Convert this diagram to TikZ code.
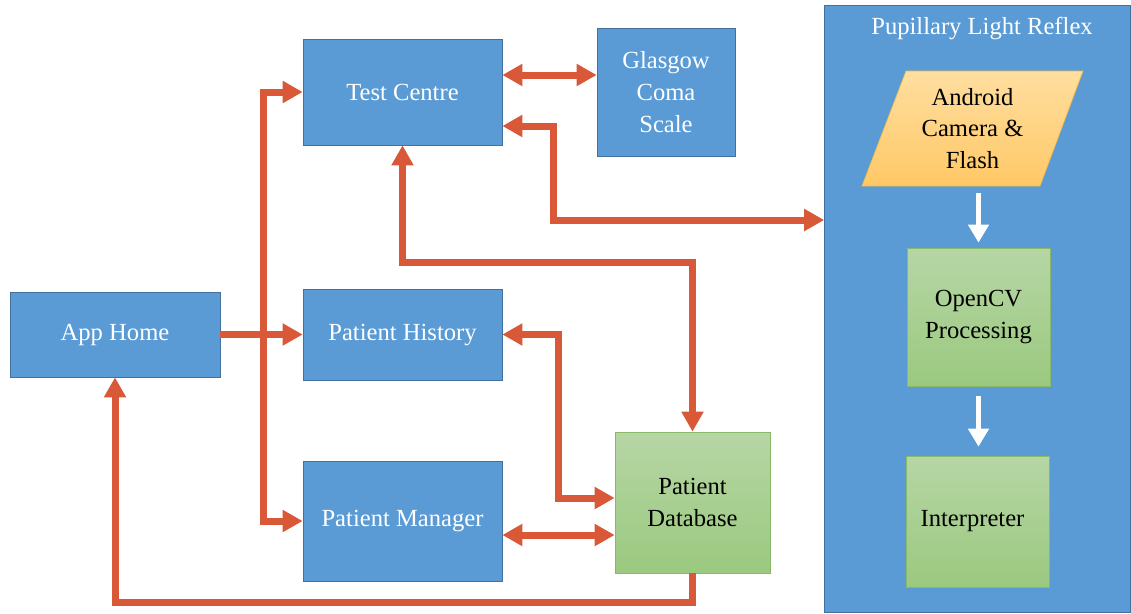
\documentclass[tikz,border=0pt]{standalone}
\usepackage{fontspec}
\setmainfont{Liberation Serif}
\usepackage{xcolor}
\usepackage{tikz}
\usetikzlibrary{arrows.meta,positioning,calc}
\definecolor{boxblue}{RGB}{91,155,213}
\definecolor{edgeblue}{RGB}{65,113,156}
\definecolor{linkred}{RGB}{216,88,56}
\definecolor{greentop}{RGB}{182,214,165}
\definecolor{greenbot}{RGB}{155,201,127}
\definecolor{greenedge}{RGB}{135,185,105}
\definecolor{camtop}{RGB}{255,222,160}
\definecolor{cambot}{RGB}{255,200,102}
\definecolor{camedge}{RGB}{238,188,70}

\begin{document}
\begin{tikzpicture}[
  x=0.02cm, y=-0.02cm,
  font=\fontsize{14}{18}\selectfont,
  bluebox/.style = {rectangle, draw=edgeblue, fill=boxblue, text=white,
                    align=center, inner sep=2pt},
  greenbox/.style = {rectangle, draw=greenedge, top color=greentop,
                     bottom color=greenbot, align=center, inner sep=2pt},
  link/.style = {-{Triangle[length=0.4cm,width=0.42cm]}, line width=0.14cm,
                 color=linkred},
  dlink/.style = {{Triangle[length=0.4cm,width=0.42cm]}-{Triangle[length=0.4cm,width=0.42cm]},
                  line width=0.14cm, color=linkred},
  wlink/.style = {-{Triangle[length=0.36cm,width=0.4cm]}, line width=0.1cm,
                  color=white},
]
\useasboundingbox (0,0) rectangle (1131,613);

% pupillary light reflex panel
\node[bluebox, minimum width=6.12cm, minimum height=12.14cm] (plr) at (977.5,308.5) {};
\node[text=white] (plrtitle) at (982,28) {Pupillary Light Reflex};

\draw[draw=camedge, top color=camtop, bottom color=cambot]
  (906,71) -- (1083,71) -- (1040,186) -- (862,186) -- cycle;
\node[align=center, minimum width=3.5cm, minimum height=2.3cm] (camera) at (972.5,128.5)
  {Android\\Camera \&\\Flash};
\node[greenbox, minimum width=2.86cm, minimum height=2.76cm] (opencv) at (978.5,317) {OpenCV\\Processing};
\node[greenbox, minimum width=2.86cm, minimum height=2.62cm] (interp) at (977.5,521.5) {\hspace{-0.2cm}Interpreter};

% app nodes
\node[bluebox, minimum width=4.2cm, minimum height=1.7cm] (apphome) at (115,334.5) {App Home};
\node[bluebox, minimum width=3.98cm, minimum height=2.12cm] (testcentre) at (402.5,92) {Test Centre};
\node[bluebox, minimum width=2.76cm, minimum height=2.56cm] (glasgow) at (666,92) {Glasgow\\Coma\\Scale};
\node[bluebox, minimum width=3.98cm, minimum height=1.82cm] (history) at (402.5,334.5) {Patient History};
\node[bluebox, minimum width=3.98cm, minimum height=2.4cm] (manager) at (402.5,521) {Patient Manager};
\node[greenbox, minimum width=3.1cm, minimum height=2.82cm] (database) at (692.5,502.5) {Patient\\Database};

% bend points
\coordinate (split) at (263,334.5);
\coordinate (gcsrow) at (0,75);
\coordinate (plrtop) at (553,126);
\coordinate (plrrow) at (553,220);
\coordinate (dbrow) at (0,262);
\coordinate (histbend) at (558,498);
\coordinate (mgrrow) at (0,535);
\coordinate (homerow) at (0,602);

% connectors
\draw[link] (apphome.east) -- (history.west);
\draw[link] (split) |- (testcentre.west);
\draw[link] (split) |- (manager.west);
\draw[dlink] (testcentre.east |- gcsrow) -- (glasgow.west |- gcsrow);
\draw[dlink] (testcentre.east |- plrtop) -- (plrtop) -- (plrrow) -- (plr.west |- plrrow);
\draw[dlink] (testcentre.south) -- (testcentre.south |- dbrow) -- (database.north |- dbrow) -- (database.north);
\draw[dlink] (history.east) -| (histbend) -- (database.west |- histbend);
\draw[dlink] (manager.east |- mgrrow) -- (database.west |- mgrrow);
\draw[link] (database.south) -- (database.south |- homerow) -| (apphome.south);

% white flow arrows
\draw[wlink, shorten <=0.14cm, shorten >=0.1cm] (opencv.north |- camera.south) -- (opencv.north);
\draw[wlink, shorten <=0.2cm, shorten >=0.18cm] (opencv.south) -- (opencv.south |- interp.north);
\end{tikzpicture}
\end{document}
